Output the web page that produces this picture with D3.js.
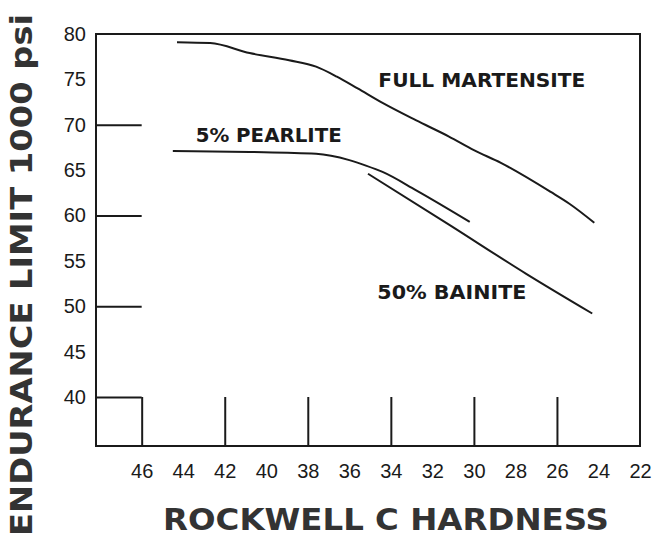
<!DOCTYPE html>
<html>
<head>
<meta charset="utf-8">
<script src="https://cdn.jsdelivr.net/npm/d3@7"></script>
<style>
  body { margin: 0; background: #fff; }
  svg { display: block; }
</style>
</head>
<body>
<div id="chart"></div>
<script>
// values (hardness, endurance limit in 1000 psi)
var martensite = [[44.3, 79.1], [42.7, 79.0], [40.8, 77.9], [38.9, 77.1], [37.6, 76.4], [36.6, 75.3], [35.6, 74.0], [34.4, 72.4], [32.8, 70.5], [31.2, 68.7], [30.0, 67.2], [28.7, 65.8], [26.3, 62.6], [25.4, 61.3], [24.2, 59.2]];
var pearlite = [[44.5, 67.1], [40.8, 67.0], [37.6, 66.8], [36.0, 66.1], [35.2, 65.5], [34.4, 64.8], [32.8, 62.8], [30.2, 59.3]];
var bainite = [[35.1, 64.6], [31.2, 59.0], [27.5, 53.6], [24.3, 49.2]];

var yLabels = [40, 45, 50, 55, 60, 65, 70, 75, 80];
var yTicks = [40, 50, 60, 70];
var xLabels = [46, 44, 42, 40, 38, 36, 34, 32, 30, 28, 26, 24, 22];
var xTicks = [46, 42, 38, 34, 30, 26];

var curveLabels = [
  { text: "FULL MARTENSITE", at: [34.6, 74.2], len: 207 },
  { text: "5% PEARLITE", at: [43.4, 68.1], len: 146 },
  { text: "50% BAINITE", at: [34.65, 50.8], len: 149 }
];

const w = 652;
const h = 541;
const xMin = 48.2, xMax = 22;
const yMin = 34.6, yMax = 80;

const x = d3.scaleLinear().domain([xMin, xMax]).range([96, 640]);
const y = d3.scaleLinear().domain([80, 40]).range([34, 397]);

const svg = d3.select("#chart").append("svg")
  .attr("width", w)
  .attr("height", h);

const ink = "#1a1a1a";

// frame
svg.append("rect")
  .attr("x", x(xMin))
  .attr("y", y(yMax))
  .attr("width", x(xMax) - x(xMin))
  .attr("height", y(yMin) - y(yMax))
  .attr("fill", "none")
  .attr("stroke", ink)
  .attr("stroke-width", 2);

// inward ticks on the left, reaching to 46
svg.append("g")
  .attr("transform", "translate(" + x(xMin) + ",0)")
  .call(d3.axisLeft(y).tickValues(yTicks).tickFormat("").tickSize(-(x(46) - x(xMin))))
  .call(g => g.select(".domain").remove())
  .call(g => g.selectAll("line").attr("stroke", ink).attr("stroke-width", 2));

// inward ticks at the bottom, reaching to 40
svg.append("g")
  .attr("transform", "translate(0," + y(yMin) + ")")
  .call(d3.axisBottom(x).tickValues(xTicks).tickFormat("").tickSize(-(y(yMin) - y(40))))
  .call(g => g.select(".domain").remove())
  .call(g => g.selectAll("line").attr("stroke", ink).attr("stroke-width", 2));

// tick labels
svg.append("g")
  .attr("transform", "translate(" + (x(xMin) - 10) + ",0)")
  .call(d3.axisLeft(y).tickValues(yLabels).tickSize(0).tickPadding(0))
  .call(g => g.select(".domain").remove())
  .call(g => g.selectAll("text")
    .attr("fill", ink)
    .style("font-family", "'Liberation Sans', Arial, sans-serif")
    .style("font-size", "20px"));

svg.append("g")
  .attr("transform", "translate(0," + (y(yMin) + 18) + ")")
  .call(d3.axisBottom(x).tickValues(xLabels).tickSize(0).tickPadding(0))
  .call(g => g.select(".domain").remove())
  .call(g => g.selectAll("text")
    .attr("fill", ink)
    .style("font-family", "'Liberation Sans', Arial, sans-serif")
    .style("font-size", "20px"));

// curves
const line = d3.line()
  .x(d => x(d[0]))
  .y(d => y(d[1]))
  .curve(d3.curveMonotoneX);

[martensite, pearlite, bainite].forEach(function (s) {
  svg.append("path")
    .datum(s.slice().sort((a, b) => a[0] - b[0]))
    .attr("d", line)
    .attr("fill", "none")
    .attr("stroke", ink)
    .attr("stroke-width", 2);
});

// curve labels
svg.selectAll(".clabel")
  .data(curveLabels)
  .enter()
  .append("text")
  .attr("class", "clabel")
  .attr("x", d => x(d.at[0]))
  .attr("y", d => y(d.at[1]))
  .attr("textLength", d => d.len)
  .attr("lengthAdjust", "spacingAndGlyphs")
  .attr("fill", ink)
  .style("font-family", "'DejaVu Sans Condensed', 'DejaVu Sans', sans-serif")
  .style("font-weight", "bold")
  .style("font-size", "19px")
  .text(d => d.text);

// axis titles
svg.append("text")
  .attr("x", 163)
  .attr("y", 530)
  .attr("textLength", 446)
  .attr("lengthAdjust", "spacingAndGlyphs")
  .attr("fill", "#333")
  .style("font-family", "'DejaVu Sans', sans-serif")
  .style("font-weight", "bold")
  .style("font-size", "30px")
  .text("ROCKWELL C HARDNESS");

svg.append("text")
  .attr("transform", "translate(32,536) rotate(-90)")
  .attr("x", 0)
  .attr("y", 0)
  .attr("textLength", 522)
  .attr("lengthAdjust", "spacingAndGlyphs")
  .attr("fill", "#333")
  .style("font-family", "'DejaVu Sans', sans-serif")
  .style("font-weight", "bold")
  .style("font-size", "30px")
  .text("ENDURANCE LIMIT 1000 psi");
</script>
</body>
</html>
